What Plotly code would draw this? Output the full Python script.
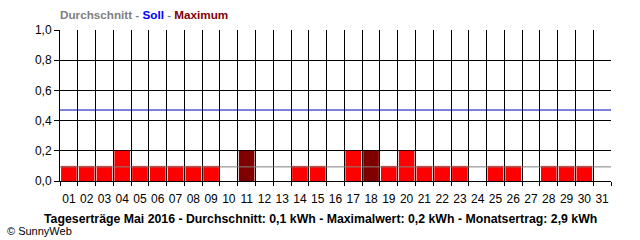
import plotly.graph_objects as go

days = list(range(1, 32))
day_labels = [f"{d:02d}" for d in days]
yields = [0.1, 0.1, 0.1, 0.2, 0.1, 0.1, 0.1, 0.1, 0.1, 0.0,
          0.2, 0.0, 0.0, 0.1, 0.1, 0.0, 0.2, 0.2, 0.1, 0.2,
          0.1, 0.1, 0.1, 0.0, 0.1, 0.1, 0.0, 0.1, 0.1, 0.1, 0.0]
max_days = [11, 18]
soll = 0.47
y_ticks = [0.0, 0.2, 0.4, 0.6, 0.8, 1.0]

average = sum(yields) / len(yields)
colors = ["#800000" if d in max_days else "#FF0000" for d in days]

fig = go.Figure()
fig.add_trace(go.Bar(x=days, y=yields, marker=dict(color=colors, line=dict(width=0)),
                     showlegend=False, hoverinfo="skip"))

fig.add_hline(y=average, line=dict(color="#808080", width=1), layer="above")
fig.add_hline(y=soll, line=dict(color="#0000C0", width=1), layer="above")

fig.update_layout(
    width=640, height=240,
    margin=dict(l=60, r=29, t=30, b=59),
    paper_bgcolor="white", plot_bgcolor="white",
    separators=",.",
    bargap=0.12,
    font=dict(family="Liberation Sans, Arial, sans-serif", size=12, color="black"),
    xaxis=dict(
        range=[0.5, 31.5], tickvals=days, ticktext=day_labels,
        showgrid=False, ticks="outside", ticklen=7, tickcolor="rgba(0,0,0,0)",
        zeroline=False,
        showline=True, linecolor="black", linewidth=1,
        minor=dict(tick0=0.5, dtick=1, ticks="outside", ticklen=4, tickcolor="black",
                   showgrid=True, gridcolor="black", gridwidth=1),
        tickfont=dict(size=12), fixedrange=True,
    ),
    yaxis=dict(
        range=[0, 1.0], tickvals=y_ticks, tickformat=".1f",
        showgrid=True, gridcolor="black", gridwidth=1,
        ticks="outside", ticklen=5, tickcolor="black",
        showline=True, linecolor="black", linewidth=1, zeroline=False,
        tickfont=dict(size=12), fixedrange=True,
    ),
    annotations=[
        dict(xref="paper", yref="paper", x=0, y=1, yshift=7, xanchor="left", yanchor="bottom",
             showarrow=False, xshift=-2,
             text="<b><span style='color:#808080'>Durchschnitt - </span>"
                  "<span style='color:#0000FF'>Soll</span>"
                  "<span style='color:#808080'> - </span>"
                  "<span style='color:#800000'>Maximum</span></b>",
             font=dict(size=11.7)),
        dict(xref="paper", yref="paper", x=0.5, y=0, yshift=-29, xanchor="center", yanchor="top",
             showarrow=False, xshift=-15,
             text="<b>Tageserträge Mai 2016 - Durchschnitt: 0,1 kWh - Maximalwert: 0,2 kWh - Monatsertrag: 2,9 kWh</b>",
             font=dict(size=12.3)),
        dict(xref="paper", yref="paper", x=0, y=0, xshift=-55, yshift=-42, xanchor="left", yanchor="top",
             showarrow=False, text="© SunnyWeb", font=dict(size=11)),
    ],
)

fig.write_html("out.html")
